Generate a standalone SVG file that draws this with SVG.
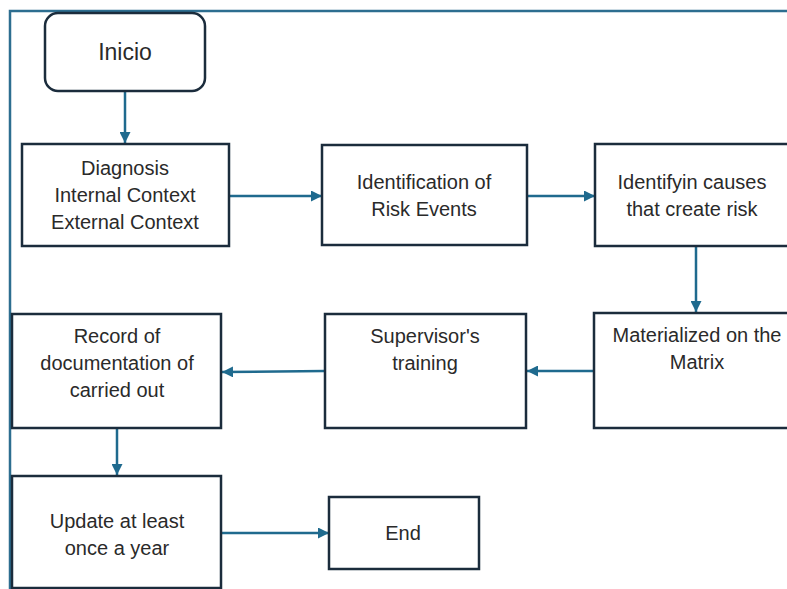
<svg xmlns="http://www.w3.org/2000/svg" width="787" height="589" viewBox="0 0 787 589">
<style>
.box{fill:#ffffff;stroke:#1b2c3c;stroke-width:2.5}
.frame{fill:none;stroke:#2d6e90;stroke-width:2.5}
.conn{fill:none;stroke:#1f6a8e;stroke-width:2.5}
text{font-family:"Liberation Sans",Arial,sans-serif;font-size:20px;fill:#2a2a2a;text-anchor:middle}
.big{font-size:23px}
</style>
<defs>
<marker id="ah" viewBox="0 0 10 10" refX="10" refY="5" markerWidth="4.4" markerHeight="4.4" orient="auto" markerUnits="strokeWidth">
<path d="M0,0 L10,5 L0,10 Z" fill="#1f6a8e"/>
</marker>
</defs>
<rect width="787" height="589" fill="#ffffff"/>
<path class="frame" d="M10,589 V11 H787"/>
<g id="connectors">
<line class="conn" x1="125" y1="91" x2="125" y2="143" marker-end="url(#ah)"/>
<line class="conn" x1="229" y1="196" x2="322" y2="196" marker-end="url(#ah)"/>
<line class="conn" x1="527" y1="196" x2="595" y2="196" marker-end="url(#ah)"/>
<line class="conn" x1="696" y1="246" x2="696" y2="312" marker-end="url(#ah)"/>
<line class="conn" x1="594" y1="371" x2="527" y2="371" marker-end="url(#ah)"/>
<line class="conn" x1="325" y1="371" x2="222" y2="372" marker-end="url(#ah)"/>
<line class="conn" x1="117" y1="428" x2="117" y2="475" marker-end="url(#ah)"/>
<line class="conn" x1="221" y1="533" x2="329" y2="533" marker-end="url(#ah)"/>
</g>
<g id="inicio">
<rect class="box" x="45" y="13" width="160" height="78" rx="13"/>
<text class="big" x="125" y="60">Inicio</text>
</g>
<g id="diagnosis">
<rect class="box" x="22" y="144" width="207" height="102"/>
<text x="125" y="175">Diagnosis</text>
<text x="125" y="202">Internal Context</text>
<text x="125" y="229">External Context</text>
</g>
<g id="identification">
<rect class="box" x="322" y="145" width="205" height="100"/>
<text x="424" y="189">Identification of</text>
<text x="424" y="216">Risk Events</text>
</g>
<g id="causes">
<rect class="box" x="595" y="144" width="200" height="102"/>
<text x="692" y="189">Identifyin causes</text>
<text x="692" y="216">that create risk</text>
</g>
<g id="materialized">
<rect class="box" x="594" y="313" width="200" height="115"/>
<text x="697" y="342">Materialized on the</text>
<text x="697" y="369">Matrix</text>
</g>
<g id="supervisor">
<rect class="box" x="325" y="314" width="201" height="114"/>
<text x="425" y="343">Supervisor's</text>
<text x="425" y="370">training</text>
</g>
<g id="record">
<rect class="box" x="12" y="314" width="209" height="114"/>
<text x="117" y="343">Record of</text>
<text x="117" y="370">documentation of</text>
<text x="117" y="397">carried out</text>
</g>
<g id="update">
<rect class="box" x="12" y="476" width="209" height="112"/>
<text x="117" y="528">Update at least</text>
<text x="117" y="555">once a year</text>
</g>
<g id="end">
<rect class="box" x="329" y="497" width="150" height="72"/>
<text x="403" y="540">End</text>
</g>
</svg>
